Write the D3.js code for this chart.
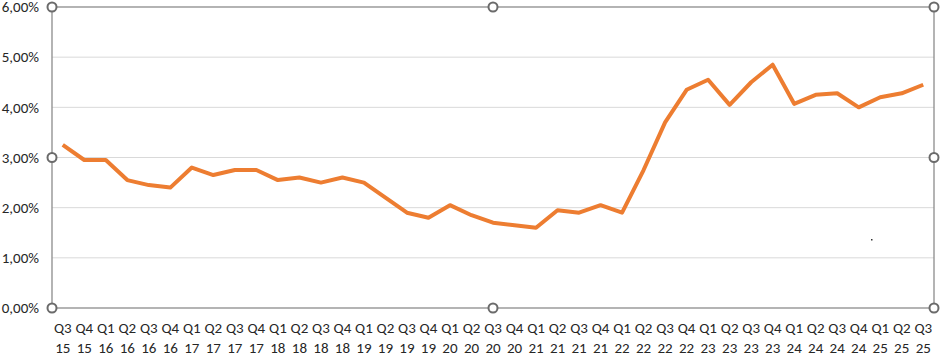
<!DOCTYPE html>
<html>
<head>
<meta charset="utf-8">
<script src="https://cdn.jsdelivr.net/npm/d3@7"></script>
<style>
  body { margin: 0; background: #fff; }
  text { font-family: Carlito, Lato, "Open Sans", sans-serif; fill: #262626; }
</style>
</head>
<body>
<div id="chart"></div>
<script>
const quarters = ["Q3","Q4","Q1","Q2","Q3","Q4","Q1","Q2","Q3","Q4","Q1","Q2","Q3","Q4","Q1","Q2","Q3","Q4","Q1","Q2","Q3","Q4","Q1","Q2","Q3","Q4","Q1","Q2","Q3","Q4","Q1","Q2","Q3","Q4","Q1","Q2","Q3","Q4","Q1","Q2","Q3"];
const years = ["15","15","16","16","16","16","17","17","17","17","18","18","18","18","19","19","19","19","20","20","20","20","21","21","21","21","22","22","22","22","23","23","23","23","24","24","24","24","25","25","25"];
const rates = [3.25,2.95,2.95,2.55,2.45,2.4,2.8,2.65,2.75,2.75,2.55,2.6,2.5,2.6,2.5,2.2,1.9,1.8,2.05,1.85,1.7,1.65,1.6,1.95,1.9,2.05,1.9,2.75,3.7,4.35,4.55,4.05,4.5,4.85,4.07,4.25,4.28,4.0,4.2,4.28,4.45];
const yTicks = [0,1,2,3,4,5,6];

const width = 943, height = 359;
const margin = { top: 7, right: 9, bottom: 51, left: 52 };
const innerW = width - margin.left - margin.right;
const innerH = height - margin.top - margin.bottom;

const keys = quarters.map((q, i) => i);

const x = d3.scaleBand().domain(keys).range([0, innerW]);
const y = d3.scaleLinear().domain([0, 6]).range([innerH, 0]);

const fmt = v => d3.format(".2f")(v).replace(".", ",") + "%";

const svg = d3.select("#chart").append("svg")
  .attr("width", width)
  .attr("height", height);

const g = svg.append("g").attr("transform", `translate(${margin.left},${margin.top})`);

// gridlines
g.append("g")
  .selectAll("line")
  .data(yTicks.slice(1, -1))
  .join("line")
  .attr("x1", 0).attr("x2", innerW)
  .attr("y1", d => y(d)).attr("y2", d => y(d))
  .attr("stroke", "#d9d9d9")
  .attr("stroke-width", 1);

// y labels
g.append("g")
  .selectAll("text")
  .data(yTicks)
  .join("text")
  .attr("x", -13)
  .attr("y", d => y(d))
  .attr("dy", "0.35em")
  .attr("text-anchor", "end")
  .attr("font-size", 15)
  .text(fmt);

// x labels (two lines)
const xl = g.append("g")
  .selectAll("text")
  .data(keys)
  .join("text")
  .attr("text-anchor", "middle")
  .attr("font-size", 15)
  .attr("transform", d => `translate(${x(d) + x.bandwidth() / 2},${innerH})`);
xl.append("tspan").attr("x", 0).attr("y", 25).text(d => quarters[d]);
xl.append("tspan").attr("x", 0).attr("y", 45).text(d => years[d]);

// plot area frame (selected)
g.append("rect")
  .attr("x", 0).attr("y", 0)
  .attr("width", innerW).attr("height", innerH)
  .attr("fill", "none")
  .attr("stroke", "#8c8c8c")
  .attr("stroke-width", 1.3);

// line
const line = d3.line()
  .x((d, i) => x(i) + x.bandwidth() / 2)
  .y(d => y(d));

g.append("path")
  .datum(rates)
  .attr("fill", "none")
  .attr("stroke", "#ed7d31")
  .attr("stroke-width", 4)
  .attr("stroke-linejoin", "round")
  .attr("d", line);

// selection handles
const handles = [[0,0],[0.5,0],[1,0],[0,0.5],[1,0.5],[0,1],[0.5,1],[1,1]];
g.append("g")
  .selectAll("circle")
  .data(handles)
  .join("circle")
  .attr("cx", d => d[0] * innerW)
  .attr("cy", d => d[1] * innerH)
  .attr("r", 4.5)
  .attr("fill", "#fff")
  .attr("stroke", "#6b6b6b")
  .attr("stroke-width", 2);

// stray dot
g.append("rect")
  .attr("x", 819).attr("y", 232)
  .attr("width", 1.5).attr("height", 1.5)
  .attr("fill", "#333");
</script>
</body>
</html>
